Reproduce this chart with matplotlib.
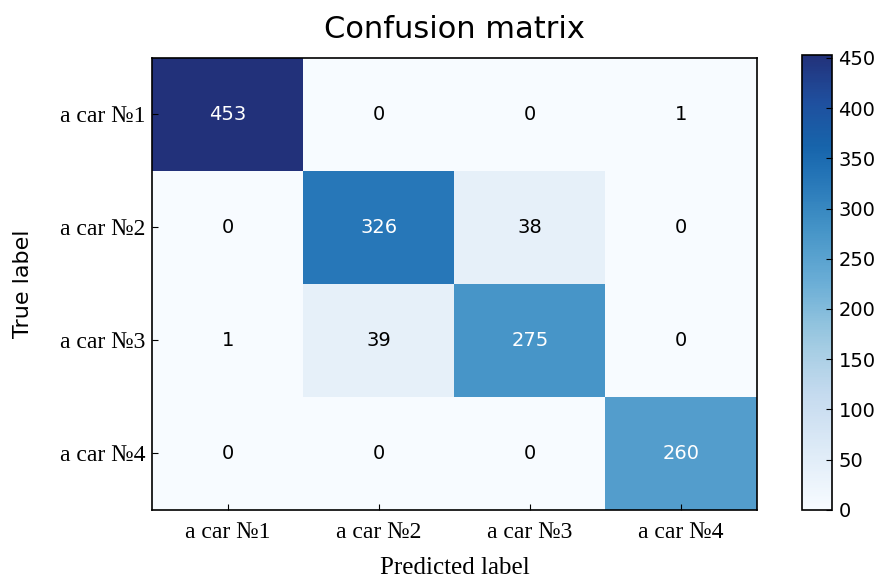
import numpy as np
import matplotlib
matplotlib.use("Agg")
import matplotlib.pyplot as plt
from matplotlib.colors import LinearSegmentedColormap

# class names and confusion matrix values
classes = ["a car №1", "a car №2", "a car №3", "a car №4"]
row1 = [453, 0, 0, 1]
row2 = [0, 326, 38, 0]
row3 = [1, 39, 275, 0]
row4 = [0, 0, 0, 260]
cbar_ticks = [0, 50, 100, 150, 200, 250, 300, 350, 400, 450]

cm = np.array([row1, row2, row3, row4])

# Blues, but with a slightly more indigo top end like the picture
pos = np.linspace(0, 0.8, 17)
stops = [(p, plt.cm.Blues(p)) for p in pos] + [(0.9, "#1f4f9e"), (1.0, "#22317a")]
cmap = LinearSegmentedColormap.from_list("blues2", stops)

fig = plt.figure(figsize=(8.79, 5.78), dpi=100)
ax = fig.add_axes([0.173, 0.118, 0.688, 0.782])
cax = fig.add_axes([0.912, 0.118, 0.034, 0.787])

im = ax.imshow(cm, interpolation="nearest", cmap=cmap, aspect="auto")
cb = fig.colorbar(im, cax=cax, ticks=cbar_ticks)
cb.ax.tick_params(labelsize=14, direction="in", length=4, width=0.8, pad=5)
cb.outline.set_linewidth(1.2)

ax.set_title("Confusion matrix", fontsize=22, pad=14)
ticks = np.arange(len(classes))
ax.set_xticks(ticks)
ax.set_yticks(ticks)
ax.set_xticklabels(classes, family="Liberation Serif", fontsize=17)
ax.set_yticklabels(classes, family="Liberation Serif", fontsize=17)
ax.tick_params(axis="x", direction="in", length=4, width=0.8, pad=9)
ax.tick_params(axis="y", direction="in", length=4, width=0.8, pad=5)
for s in ax.spines.values():
    s.set_linewidth(1.2)

# cell values, white text on dark cells
thresh = cm.max() / 2.0
for i in range(cm.shape[0]):
    for j in range(cm.shape[1]):
        ax.text(j, i, str(cm[i, j]), ha="center", va="center", fontsize=14,
                color="white" if cm[i, j] > thresh else "black")

ax.set_ylabel("True label", fontsize=16, labelpad=19)
ax.set_xlabel("Predicted label", family="Liberation Serif", fontsize=18, labelpad=10)

fig.savefig("out.png", dpi=100)
